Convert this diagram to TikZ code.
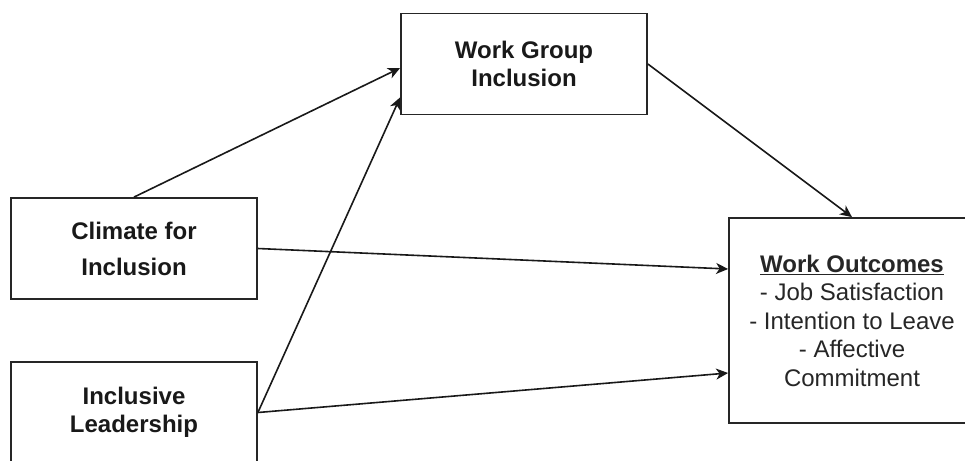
\documentclass[tikz,border=0pt]{standalone}
\usepackage{fontspec}
\setmainfont{Liberation Sans}
\usetikzlibrary{arrows.meta}

\tikzset{box/.style={draw=black!85,line width=1.8pt,minimum width=246pt,minimum height=101pt,inner sep=0pt,align=center,font=\fontsize{24}{27.5}\selectfont},
         link/.style={-{Stealth[length=12pt,width=11pt,inset=3.5pt]},line width=1.6pt,black!90}}

\begin{document}
\begin{tikzpicture}[x=1pt,y=-1pt]
 		\useasboundingbox (0,0) rectangle (965,460);
 		\node[box,text=black!90] (wgi) at (524,64) {\textbf{Work Group}\\\textbf{Inclusion}};
 		\node[box,text=black!90,font=\fontsize{24}{36}\selectfont] (climate) at (134,248.5) {\textbf{Climate for}\\\textbf{Inclusion}};
 		\node[box,text=black!90] (lead) at (134,412.5) {\textbf{Inclusive}\\\textbf{Leadership}};
 		\node[box,minimum height=205pt,text=black!85,font=\fontsize{24}{28.5}\selectfont] (wo) at (852,320.5) {\textbf{\underline{Work Outcomes}}\\- Job Satisfaction\\- Intention to Leave\\- Affective\\Commitment};

 		\draw[link] (climate.north) -- ([yshift=-4pt]wgi.west);
 		\draw[link] (lead.east) -- ([yshift=18pt]wgi.south west);
 		\draw[link] (wgi.east) -- (wo.north);
 		\draw[link] (climate.east) -- ([yshift=51.5pt]wo.west);
 		\draw[link] (lead.east) -- ([yshift=-52.5pt]wo.west);
\end{tikzpicture}
\end{document}
